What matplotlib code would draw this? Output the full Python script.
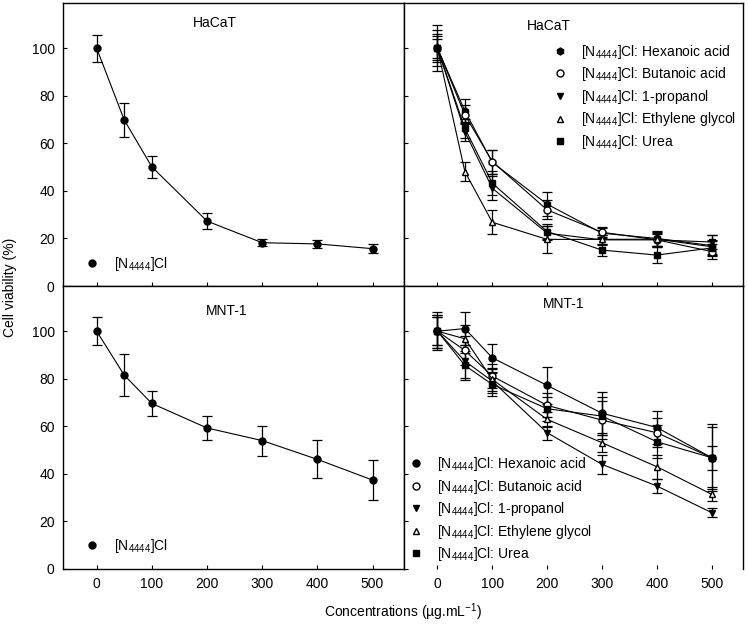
import matplotlib
matplotlib.use("Agg")
import matplotlib.pyplot as plt
from matplotlib.lines import Line2D

plt.rcParams['font.family'] = ['Liberation Sans', 'DejaVu Sans']
plt.rcParams['mathtext.default'] = 'regular'
plt.rcParams['font.size'] = 10

conc = [0, 50, 100, 200, 300, 400, 500]

# HaCaT, [N4444]Cl alone
hacat_il = [100, 69.8, 50.1, 27.3, 18.2, 17.7, 15.7]
hacat_il_err = [5.7, 7.0, 4.5, 3.5, 1.4, 1.7, 1.8]

# MNT-1, [N4444]Cl alone
mnt_il = [100, 81.5, 69.6, 59.3, 54.0, 46.1, 37.4]
mnt_il_err = [5.8, 8.7, 5.2, 5.0, 6.3, 8.0, 8.3]

labels = ["Hexanoic acid", "Butanoic acid", "1-propanol", "Ethylene glycol", "Urea"]

# HaCaT, mixtures
hacat_hex = [100, 73.6, 52.0, 34.4, 22.2, 20.0, 17.0]
hacat_but = [100, 72.0, 52.3, 32.0, 22.6, 19.4, 14.5]
hacat_pro = [100, 64.9, 41.1, 22.2, 19.4, 19.4, 18.5]
hacat_eth = [100, 48.1, 26.8, 19.6, 19.6, 19.7, 16.5]
hacat_ure = [100, 66.3, 43.2, 22.9, 15.1, 13.0, 16.0]
hacat_hex_err = [9.8, 5.0, 5.0, 5.0, 2.0, 3.0, 4.5]
hacat_but_err = [5.0, 4.0, 5.0, 4.0, 2.0, 2.5, 3.0]
hacat_pro_err = [7.7, 4.0, 5.0, 3.0, 2.0, 3.0, 3.0]
hacat_eth_err = [4.0, 4.0, 5.0, 5.6, 2.0, 3.0, 3.0]
hacat_ure_err = [6.0, 4.0, 5.0, 3.0, 2.5, 3.5, 3.0]

# MNT-1, mixtures
mnt_hex = [100, 101.1, 88.8, 77.2, 65.5, 59.5, 46.8]
mnt_but = [100, 91.9, 81.1, 68.8, 62.6, 57.3, 46.8]
mnt_pro = [100, 87.4, 79.0, 57.3, 44.0, 34.9, 23.7]
mnt_eth = [100, 96.8, 79.7, 62.9, 53.1, 43.0, 31.4]
mnt_ure = [100, 85.6, 77.6, 67.4, 64.3, 53.5, 46.8]
mnt_hex_err = [7.0, 7.0, 6.0, 7.8, 9.0, 7.0, 14.0]
mnt_but_err = [6.0, 6.0, 5.0, 5.0, 8.0, 6.0, 5.0]
mnt_pro_err = [8.0, 7.0, 5.0, 3.0, 4.0, 3.0, 2.0]
mnt_eth_err = [6.0, 6.0, 5.0, 3.0, 4.0, 5.0, 3.0]
mnt_ure_err = [7.0, 6.0, 5.0, 5.0, 8.0, 7.0, 13.0]

W, H = 748, 631
fig = plt.figure(figsize=(W / 100, H / 100), dpi=100)

def px_axes(x0, x1, ytop, ybot):
    return fig.add_axes([x0 / W, 1 - ybot / H, (x1 - x0) / W, (ybot - ytop) / H])

ax_tl = px_axes(63, 404, 3, 286)
ax_tr = px_axes(404, 743, 3, 286)
ax_bl = px_axes(63, 404, 286, 569)
ax_br = px_axes(404, 743, 286, 569)

for ax in [ax_tl, ax_tr, ax_bl, ax_br]:
    ax.set_xlim(-61, 557)
    ax.set_ylim(0, 119)
    ax.set_xticks(conc[:1] + conc[2:])
    ax.set_yticks([0, 20, 40, 60, 80, 100])
    ax.tick_params(direction='in', length=3, width=0.8, labelsize=10, pad=6)
    for s in ax.spines.values():
        s.set_linewidth(1.0)

ax_tl.tick_params(labelbottom=False)
ax_tr.tick_params(labelbottom=False, labelleft=False)
ax_br.tick_params(labelleft=False)
ax_br.spines['bottom'].set_visible(False)

il_label = "[N$_{4444}$]Cl"
eb = dict(color='black', lw=0.8, elinewidth=0.9, capsize=3.5, capthick=0.9, ms=5)


def draw(ax, y, err, marker, mfc):
    ax.errorbar(conc, y, yerr=err, fmt='-', marker=marker, mfc=mfc, mec='black', **eb)


def marker_handle(marker, mfc):
    return Line2D([], [], ls='none', marker=marker, mfc=mfc, mec='black', ms=5, color='black')


# single compound panels
draw(ax_tl, hacat_il, hacat_il_err, 'o', 'black')
draw(ax_bl, mnt_il, mnt_il_err, 'o', 'black')
for ax, yc in [(ax_tl, 0.078), (ax_bl, 0.083)]:
    ax.legend([marker_handle('o', 'black')], [il_label], loc='center left',
              bbox_to_anchor=(0.064, yc), frameon=False, borderpad=0, borderaxespad=0,
              handlelength=1.0, handletextpad=1.1, fontsize=10)

# mixtures
hacat_sets = [(hacat_hex, hacat_hex_err, 'h', 'black'),
              (hacat_but, hacat_but_err, 'o', 'white'),
              (hacat_pro, hacat_pro_err, 'v', 'black'),
              (hacat_eth, hacat_eth_err, '^', 'white'),
              (hacat_ure, hacat_ure_err, 's', 'black')]
mnt_sets = [(mnt_hex, mnt_hex_err, 'o', 'black'),
            (mnt_but, mnt_but_err, 'o', 'white'),
            (mnt_pro, mnt_pro_err, 'v', 'black'),
            (mnt_eth, mnt_eth_err, '^', 'white'),
            (mnt_ure, mnt_ure_err, 's', 'black')]

for ax, sets, anchor in [(ax_tr, hacat_sets, (0.44, 0.86)), (ax_br, mnt_sets, (0.014, 0.403))]:
    handles = []
    for y, err, m, fc in sets:
        draw(ax, y, err, m, fc)
        handles.append(marker_handle(m, fc))
    ax.legend(handles, [il_label + ": " + l for l in labels], loc='upper left',
              bbox_to_anchor=anchor, frameon=False, borderpad=0, borderaxespad=0,
              handlelength=1.0, handletextpad=1.0, labelspacing=0.33, fontsize=10)

# panel titles
ax_tl.text(0.445, 0.93, "HaCaT", transform=ax_tl.transAxes, ha='center', va='center', fontsize=10)
ax_tr.text(0.426, 0.92, "HaCaT", transform=ax_tr.transAxes, ha='center', va='center', fontsize=10)
ax_bl.text(0.48, 0.91, "MNT-1", transform=ax_bl.transAxes, ha='center', va='center', fontsize=10)
ax_br.text(0.47, 0.935, "MNT-1", transform=ax_br.transAxes, ha='center', va='center', fontsize=10)

fig.text(10 / W, 1 - 287 / H, "Cell viability (%)", rotation=90, ha='center', va='center', fontsize=10)
fig.text(403 / W, 1 - 612 / H, "Concentrations (µg.mL$^{-1}$)", ha='center', va='center', fontsize=10)

fig.savefig("out.png", dpi=100)
